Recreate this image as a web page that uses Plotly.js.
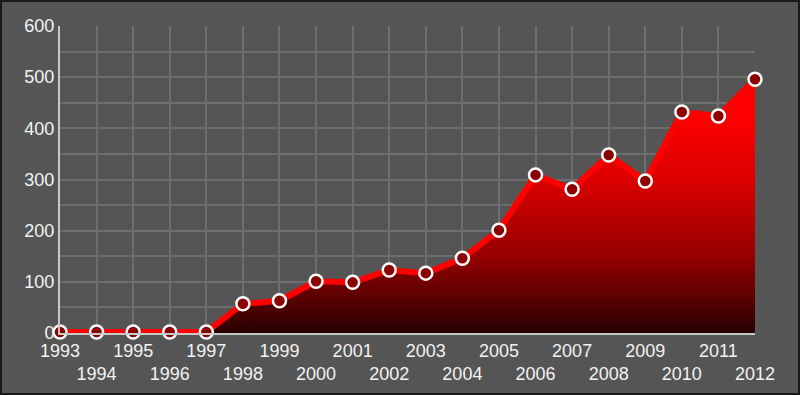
<!DOCTYPE html>
<html><head><meta charset="utf-8">
<script src="https://cdn.plot.ly/plotly-3.0.1.min.js"></script>
<style>
html,body{margin:0;padding:0;background:#555555;}
#wrap{width:800px;height:395px;box-sizing:border-box;border:2px solid #1a1a1a;background:#555555;}
#chart{width:796px;height:391px;}
</style></head>
<body><div id="wrap"><div id="chart"></div></div>
<script>
const years = [1993,1994,1995,1996,1997,1998,1999,2000,2001,2002,2003,2004,2005,2006,2007,2008,2009,2010,2011,2012];
const values = [2,2,2,2,2,57,63,101,99,123,117,146,201,309,281,348,297,432,424,496];
const yTicks = [0,100,200,300,400,500,600];

const tickText = years.map((y,i)=> i%2===0 ? String(y) : '<br>'+y);
const lastX = years[years.length-1], lastY = values[values.length-1];

const edge = {
  x:[lastX,lastX], y:[0,lastY], type:'scatter', mode:'lines',
  line:{color:'#d0d0d0', width:2}, cliponaxis:false, hoverinfo:'none'
};

const trace = {
  x: years, y: values, type:'scatter', mode:'lines+markers',
  fill:'tozeroy',
  fillgradient:{type:'vertical', start:0, stop:430,
    colorscale:[[0,'#280000'],[0.12,'#4e0000'],[0.35,'#960000'],[0.7,'#dc0000'],[1,'#ff0000']]},
  line:{color:'#ff0000', width:6},
  marker:{size:13, color:'#8b0000', line:{color:'#ffffff', width:2.5}},
  cliponaxis:false, hoverinfo:'none'
};

const layout = {
  width:796, height:391,
  margin:{l:58, r:43, t:24, b:60},
  paper_bgcolor:'#555555', plot_bgcolor:'#555555',
  font:{family:'Liberation Sans, Arial, sans-serif', size:18, color:'#f2f2f2'},
  showlegend:false,
  xaxis:{range:[1993,2012], tickmode:'array', tickvals:years, ticktext:tickText, tickangle:0,
    showgrid:true, gridcolor:'#6e6e6e', gridwidth:2,
    showline:true, linecolor:'#c8c8c8', linewidth:2, zeroline:false, ticks:'', fixedrange:true},
  yaxis:{range:[0,600], tickmode:'array', tickvals:yTicks,
    showgrid:true, gridcolor:'#6e6e6e', gridwidth:2,
    minor:{dtick:50, showgrid:true, gridcolor:'#6e6e6e', gridwidth:2},
    showline:true, linecolor:'#c8c8c8', linewidth:2, zeroline:false, ticks:'', fixedrange:true}
};
Plotly.newPlot('chart',[edge, trace],layout,{displayModeBar:false, staticPlot:true});
</script></body></html>
